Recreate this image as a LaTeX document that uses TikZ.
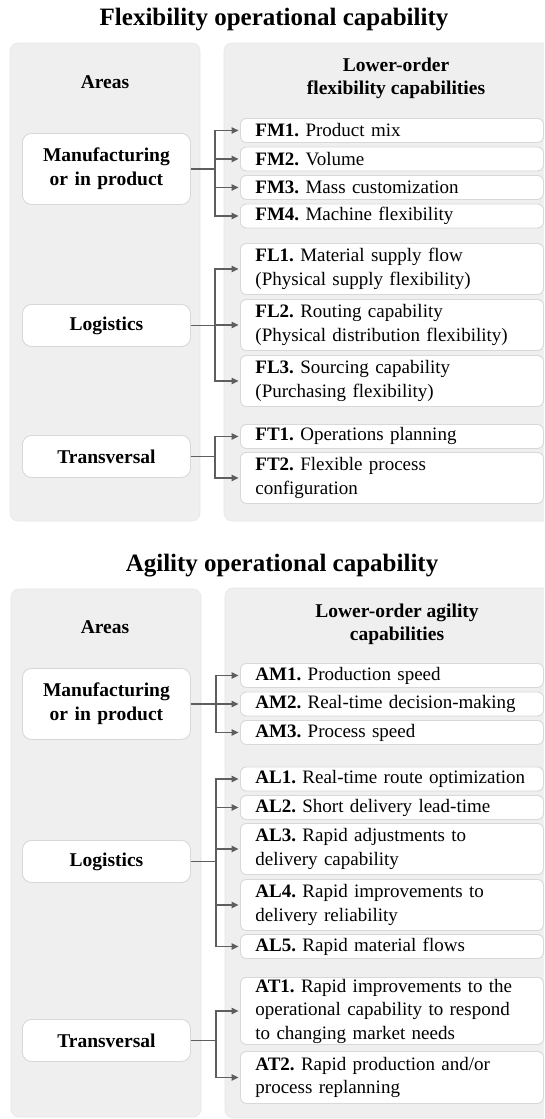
\documentclass[tikz,border=0pt]{standalone}
\usepackage{fontspec}
\setmainfont{Liberation Serif}
\usetikzlibrary{arrows.meta}
\frenchspacing
\definecolor{panelgray}{HTML}{EFEFEF}
\definecolor{paneledge}{HTML}{E6E6E6}
\definecolor{boxline}{HTML}{D8D8D8}
\definecolor{linkgray}{HTML}{5E5E5E}
\tikzset{
  panel/.style={fill=panelgray, draw=paneledge, line width=0.6pt, rounded corners=8pt},
  itembox/.style={draw=boxline, fill=white, line width=0.9pt, rounded corners=6pt,
    anchor=north west, minimum width=303pt, text width=273pt, inner xsep=15pt,
    inner ysep=0pt, align=left, font=\fontsize{19}{23.5}\selectfont},
  areabox/.style={draw=boxline, fill=white, line width=0.9pt, rounded corners=9pt,
    anchor=north west, minimum width=168pt, text width=160pt, inner xsep=4pt,
    inner ysep=0pt, align=center, font=\fontsize{19.5}{23.5}\selectfont\bfseries},
  head/.style={align=center, font=\fontsize{19.5}{23}\selectfont\bfseries},
  maintitle/.style={font=\fontsize{25}{30}\selectfont\bfseries},
  link/.style={draw=linkgray, line width=1.2pt, -{Triangle[length=7pt,width=6.5pt]}, shorten >=1.5pt},
}
\begin{document}
\begin{tikzpicture}[x=1pt,y=-1pt]
\useasboundingbox (0,0) rectangle (544,1119);
\clip (0,0) rectangle (544,1119);

% ---------------- Flexibility ----------------
\node[maintitle] (ftitle) at (274,19.5) {Flexibility operational capability};
\draw[panel] (10,43) rectangle (200,521);
\draw[panel] (224,43) rectangle (570,521);
\node[head] (fareas) at (105,82) {Areas};
\node[head] (flower) at (396,78.5) {Lower-order\\flexibility capabilities};

\node[areabox, minimum height=71pt] (fman) at (22,133) {Manufacturing\\or in product};
\node[areabox, minimum height=42pt] (flog) at (22,304) {Logistics};
\node[areabox, minimum height=42pt] (ftra) at (22,435) {Transversal};

\node[itembox, minimum height=24pt] (fm1) at (240,118)   {\textbf{FM1.} Product mix};
\node[itembox, minimum height=24pt] (fm2) at (240,146.5) {\textbf{FM2.} Volume};
\node[itembox, minimum height=24pt] (fm3) at (240,175)   {\textbf{FM3.} Mass customization};
\node[itembox, minimum height=24pt] (fm4) at (240,203.5) {\textbf{FM4.} Machine flexibility};

\node[itembox, minimum height=51pt] (fl1) at (240,243) {\textbf{FL1.} Material supply flow\\(Physical supply flexibility)};
\node[itembox, minimum height=51pt] (fl2) at (240,299) {\textbf{FL2.} Routing capability\\(Physical distribution flexibility)};
\node[itembox, minimum height=51pt] (fl3) at (240,355) {\textbf{FL3.} Sourcing capability\\(Purchasing flexibility)};

\node[itembox, minimum height=24pt] (ft1) at (240,424) {\textbf{FT1.} Operations planning};
\node[itembox, minimum height=51pt] (ft2) at (240,452) {\textbf{FT2.} Flexible process\\configuration};

\foreach \t in {fm1,fm2,fm3,fm4} \draw[link] (fman.east) -- ++(24,0) |- (\t.west);
\foreach \t in {fl1,fl2,fl3} \draw[link] (flog.east) -- ++(24,0) |- (\t.west);
\foreach \t in {ft1,ft2} \draw[link] (ftra.east) -- ++(24,0) |- (\t.west);

% ---------------- Agility ----------------
\node[maintitle] (atitle) at (282,565.5) {Agility operational capability};
\draw[panel] (11,589) rectangle (201,1117);
\draw[panel] (225,588) rectangle (570,1118);
\node[head] (aareas) at (105,627) {Areas};
\node[head] (alower) at (397,624) {Lower-order agility\\capabilities};

\node[areabox, minimum height=71pt] (aman) at (22,668) {Manufacturing\\or in product};
\node[areabox, minimum height=42pt] (alog) at (22,840) {Logistics};
\node[areabox, minimum height=42pt] (atra) at (22,1019) {Transversal};

\node[itembox, minimum height=24pt] (am1) at (240,663)   {\textbf{AM1.} Production speed};
\node[itembox, minimum height=24pt] (am2) at (240,691.5) {\textbf{AM2.} Real-time decision-making};
\node[itembox, minimum height=24pt] (am3) at (240,720)   {\textbf{AM3.} Process speed};

\node[itembox, minimum height=24pt] (al1) at (240,766.5) {\textbf{AL1.} Real-time route optimization};
\node[itembox, minimum height=24pt] (al2) at (240,795)   {\textbf{AL2.} Short delivery lead-time};
\node[itembox, minimum height=51pt] (al3) at (240,823)   {\textbf{AL3.} Rapid adjustments to\\delivery capability};
\node[itembox, minimum height=51pt] (al4) at (240,879)   {\textbf{AL4.} Rapid improvements to\\delivery reliability};
\node[itembox, minimum height=24pt] (al5) at (240,934)   {\textbf{AL5.} Rapid material flows};

\node[itembox, minimum height=67pt] (at1) at (240,977)  {\textbf{AT1.} Rapid improvements to the\\operational capability to respond\\to changing market needs};
\node[itembox, minimum height=52pt] (at2) at (240,1051) {\textbf{AT2.} Rapid production and/or\\process replanning};

\foreach \t in {am1,am2,am3} \draw[link] (aman.east) -- ++(25,0) |- (\t.west);
\foreach \t in {al1,al2,al3,al4,al5} \draw[link] (alog.east) -- ++(25,0) |- (\t.west);
\foreach \t in {at1,at2} \draw[link] (atra.east) -- ++(25,0) |- (\t.west);
\end{tikzpicture}
\end{document}
